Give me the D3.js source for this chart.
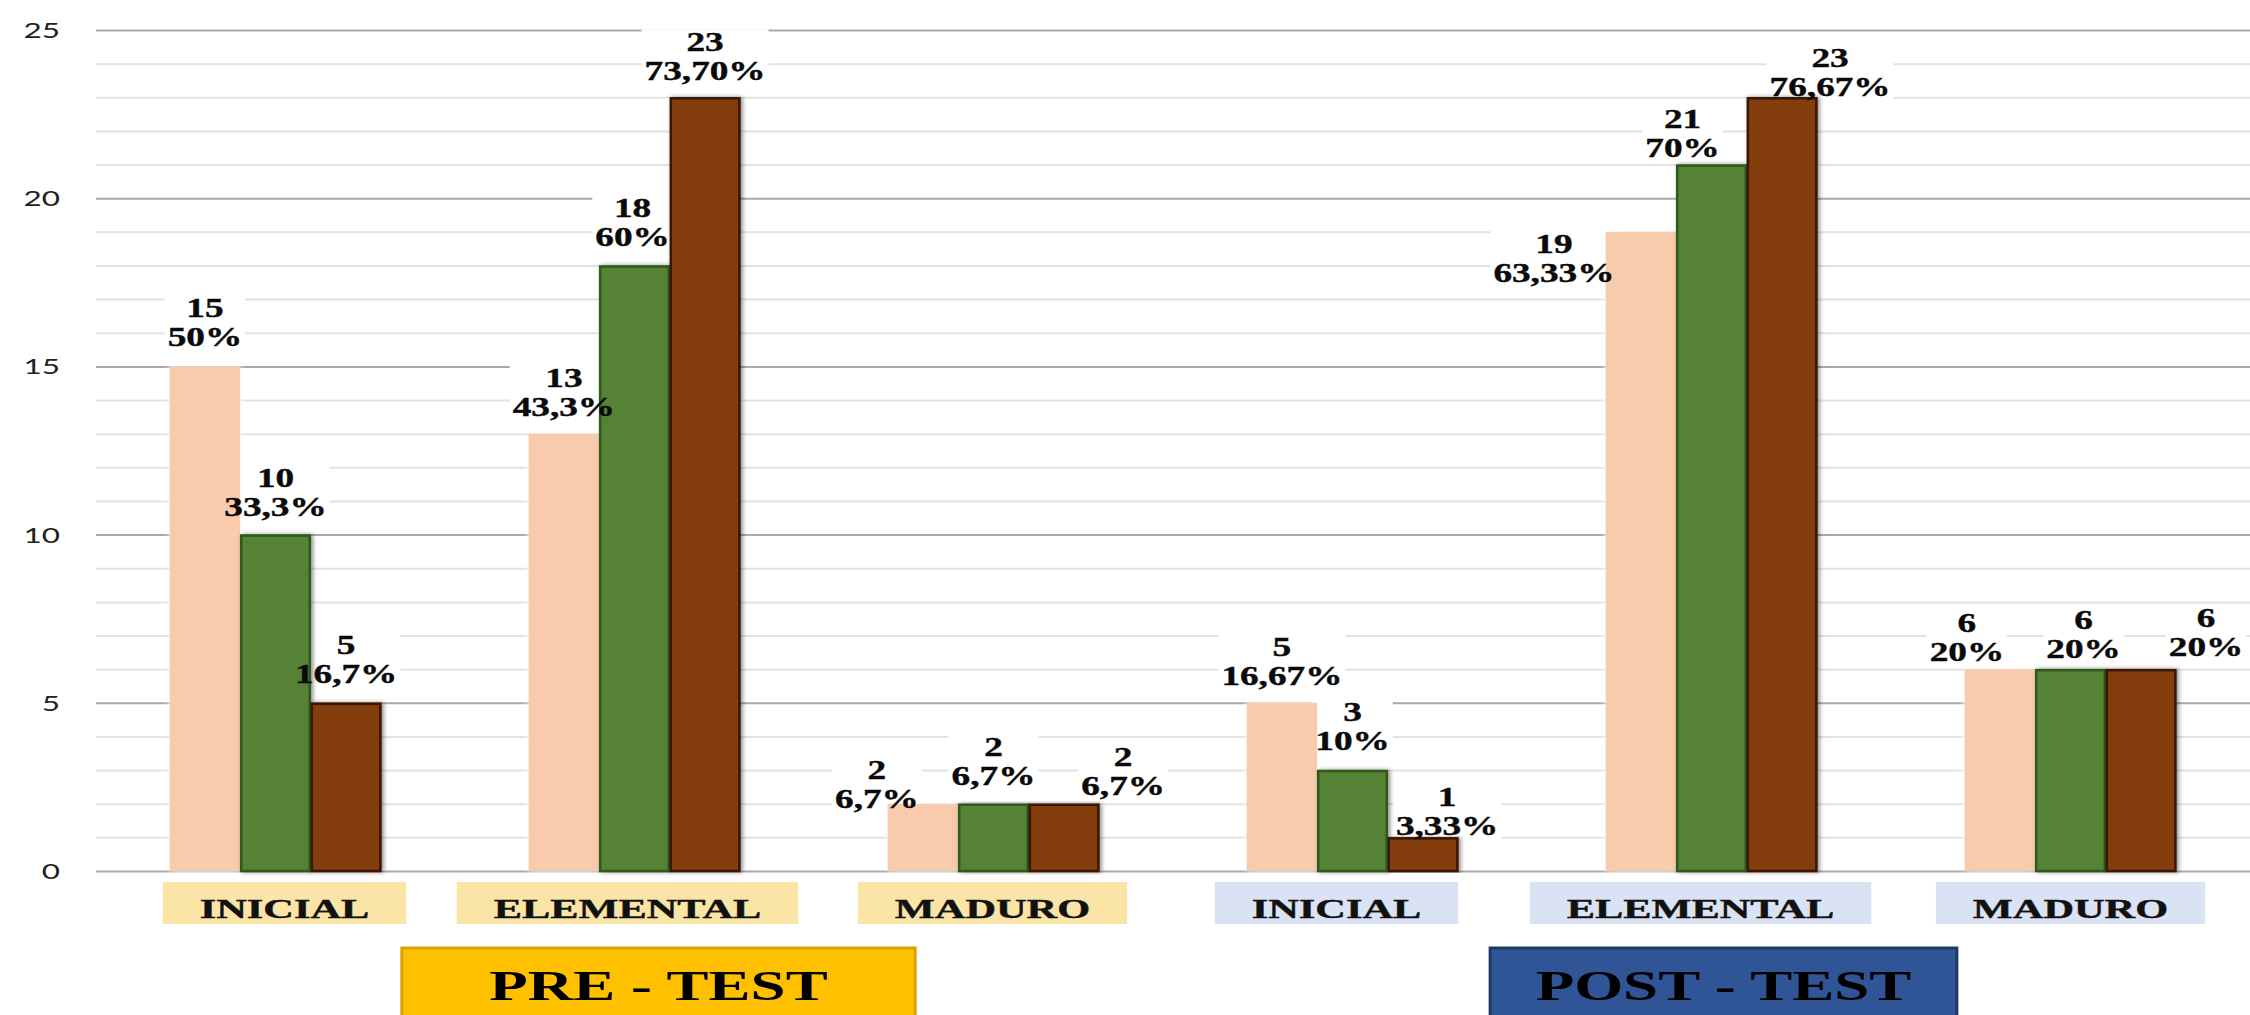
<!DOCTYPE html>
<html><head><meta charset="utf-8">
<script src="https://cdn.jsdelivr.net/npm/d3@7"></script>
<style>html,body{margin:0;padding:0;background:#fff;}svg{display:block}</style>
</head><body>
<svg id="chart" width="2250" height="1015"></svg>
<script>
// ---- data ----
const groups = ["PRE - TEST", "POST - TEST"];
const categories = ["INICIAL", "ELEMENTAL", "MADURO", "INICIAL", "ELEMENTAL", "MADURO"];
const categoryGroup = [0, 0, 0, 1, 1, 1];
const seriesNames = ["Serie 1", "Serie 2", "Serie 3"];
const serie1 = [15, 13, 2, 5, 19, 6];
const serie2 = [10, 18, 2, 3, 21, 6];
const serie3 = [5, 23, 2, 1, 23, 6];
const pct1 = ["50%", "43,3%", "6,7%", "16,67%", "63,33%", "20%"];
const pct2 = ["33,3%", "60%", "6,7%", "10%", "70%", "20%"];
const pct3 = ["16,7%", "73,70%", "6,7%", "3,33%", "76,67%", "20%"];
const yTicks = [0, 5, 10, 15, 20, 25];

// ---- layout / style (not data) ----
const W = 2250, H = 1015;
const plotLeft = 96, plotRight = 2250, yBottom = 871, yTop = 30;
const seriesColors = ["#F8CBAD", "#548235", "#843C0C"];
const seriesStroke = ["#F8CBAD", "#2F5A1B", "#3A1405"];
// label nudges [dx px from bar centre, dy px of percent baseline from bar top]
const labelNudge = [
  [[0,-20],[0,-19],[0,-20]],
  [[0,-18],[-2,-19],[0,-17]],
  [[-46,4],[0,-19],[59,-9]],
  [[0,-18],[0,-20],[24,-2]],
  [[-87,50],[-29,-8],[48,-1]],
  [[-33,-8],[13,-11],[65,-13]]
];
const catBoxShift = [9, -7, -1, -16, -11, 0];
const groupFill = ["#FBE5A6", "#DAE3F3"];
const headerFill = ["#FFC000", "#2F5597"];
const headerStroke = ["#D9A300", "#1F3864"];

const svg = d3.select("#chart");
const values = [serie1, serie2, serie3];
const pcts = [pct1, pct2, pct3];

const x0 = d3.scaleBand().domain(d3.range(categories.length))
  .range([plotLeft, plotRight]).paddingInner(0.41).paddingOuter(0.205);
const x1 = d3.scaleBand().domain(d3.range(seriesNames.length)).range([0, x0.bandwidth()]).padding(0);
const y = d3.scaleLinear().domain([0, 25]).range([yBottom, yTop]);

// gridlines via axes
const minorAxis = d3.axisLeft(y).tickValues(d3.range(0, 26).filter(v => v % 5 !== 0))
  .tickSize(-(plotRight - plotLeft)).tickFormat("");
const gMinor = svg.append("g").attr("transform", `translate(${plotLeft},0)`).call(minorAxis);
gMinor.select(".domain").remove();
gMinor.selectAll("line").attr("stroke", "#E2E2E2").attr("stroke-width", 2);

const majorAxis = d3.axisLeft(y).tickValues(yTicks).tickSize(-(plotRight - plotLeft)).tickFormat("");
const gMajor = svg.append("g").attr("transform", `translate(${plotLeft},0)`).call(majorAxis);
gMajor.select(".domain").remove();
gMajor.selectAll("line").attr("stroke", "#A9A9A9").attr("stroke-width", 2);

// y labels
const yAxis = d3.axisLeft(y).tickValues(yTicks).tickSize(0).tickPadding(0);
const gY = svg.append("g").attr("transform", `translate(60,0)`).call(yAxis);
gY.select(".domain").remove();
gY.selectAll("text")
  .attr("x", 0).attr("dy", "0.36em")
  .attr("transform", "scale(1.5,1)")
  .attr("font-family", "Lato, 'Open Sans', sans-serif")
  .attr("font-size", 21).attr("fill", "#222").attr("text-anchor", "end");

// label background layer (under bars)
const bgLayer = svg.append("g");

// bars
const defs = svg.append("defs");
const sh = defs.append("filter").attr("id", "shadow").attr("x", "-20%").attr("y", "-5%").attr("width", "140%").attr("height", "110%");
sh.append("feDropShadow").attr("dx", 2).attr("dy", 0).attr("stdDeviation", 2).attr("flood-color", "#000").attr("flood-opacity", 0.45);
const glow = defs.append("filter").attr("id", "glow").attr("x", "-20%").attr("y", "-5%").attr("width", "140%").attr("height", "110%");
glow.append("feDropShadow").attr("dx", 0).attr("dy", 0).attr("stdDeviation", 3).attr("flood-color", "#fff").attr("flood-opacity", 1);

const catG = svg.append("g").selectAll("g").data(d3.range(categories.length)).join("g")
  .attr("transform", i => `translate(${x0(i)},0)`);

catG.selectAll("rect").data(i => seriesNames.map((s, k) => ({i, k, v: values[k][i]}))).join("rect")
  .attr("x", d => x1(d.k) + (d.k === 0 ? 0 : 1))
  .attr("width", d => x1.bandwidth() - (d.k === 0 ? 0 : 2))
  .attr("y", d => y(d.v) + (d.k === 0 ? 0 : 1))
  .attr("height", d => y(0) - y(d.v) - (d.k === 0 ? 0 : 1))
  .attr("fill", d => seriesColors[d.k])
  .attr("stroke", d => d.k === 0 ? "none" : seriesStroke[d.k])
  .attr("stroke-width", 2.5)
  .attr("filter", d => d.k === 0 ? "url(#glow)" : "url(#shadow)");

// value labels
const serif = "'Liberation Serif', 'Times New Roman', serif";
const labelLayer = svg.append("g");
categories.forEach((c, i) => {
  seriesNames.forEach((s, k) => {
    const v = values[k][i];
    const [dx, dy] = labelNudge[i][k];
    const cx = x0(i) + x1(k) + x1.bandwidth() / 2 + dx;
    const by = y(v) + dy;
    const outer = labelLayer.append("g");
    const inner = outer.append("g").attr("transform", `translate(${cx},${by}) scale(1.38,1)`);
    inner.append("text").attr("y", -29).text(v);
    inner.append("text").attr("y", 0).text(pcts[k][i]);
    inner.selectAll("text").attr("text-anchor", "middle").attr("font-family", serif)
      .attr("font-weight", "bold").attr("font-size", 27).attr("fill", "#0a0a0a")
      .attr("stroke", "#0a0a0a").attr("stroke-width", 0.4);
    const bb = outer.node().getBBox();
    bgLayer.append("rect").attr("x", bb.x - 3).attr("y", bb.y + 2)
      .attr("width", bb.width + 6).attr("height", bb.height - 2).attr("fill", "#fff");
  });
});

// category boxes
const catLayer = svg.append("g");
categories.forEach((c, i) => {
  const cx = x0(i) + x0.bandwidth() / 2 + catBoxShift[i];
  const g = catLayer.append("g");
  const t = g.append("g").attr("transform", `translate(${cx},918) scale(1.57,1)`)
    .append("text").attr("text-anchor", "middle").attr("font-family", serif)
    .attr("font-weight", "bold").attr("font-size", 27).attr("fill", "#111")
    .attr("stroke", "#111").attr("stroke-width", 0.4).text(c);
  const tw = t.node().getComputedTextLength() * 1.57;
  g.insert("rect", ":first-child").attr("x", cx - tw / 2 - 37).attr("y", 882)
    .attr("width", tw + 74).attr("height", 42).attr("fill", groupFill[categoryGroup[i]]);
});

// group headers
const headerShift = [24, 12];
const headerWidth = [1.43, 1.30];
groups.forEach((gname, gi) => {
  const idx = categories.map((c, i) => i).filter(i => categoryGroup[i] === gi);
  const mid = idx[Math.floor(idx.length / 2)];
  const cx = x0(mid) + x0.bandwidth() / 2 + headerShift[gi];
  const w = x0.step() * headerWidth[gi];
  svg.append("rect").attr("x", cx - w / 2).attr("y", 948).attr("width", w).attr("height", 80)
    .attr("fill", headerFill[gi]).attr("stroke", headerStroke[gi]).attr("stroke-width", 3);
  svg.append("g").attr("transform", `translate(${cx},1000) scale(1.5,1)`)
    .append("text").attr("text-anchor", "middle").attr("font-family", serif)
    .attr("font-weight", "bold").attr("font-size", 42).attr("fill", "#000").text(gname);
});
</script>
</body></html>
